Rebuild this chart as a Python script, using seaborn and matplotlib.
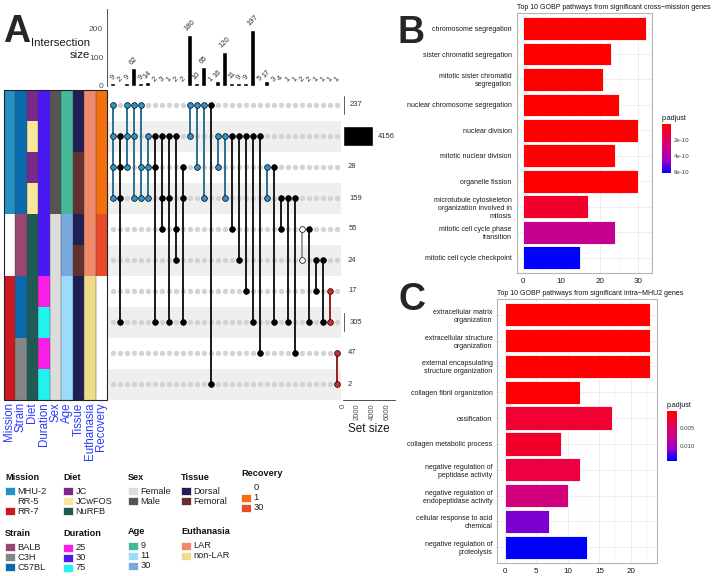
import numpy as np
import pandas as pd
import matplotlib
matplotlib.use("Agg")
import matplotlib.pyplot as plt
from matplotlib.colors import ListedColormap, LinearSegmentedColormap, Normalize
from matplotlib.cm import ScalarMappable
from matplotlib.patches import Rectangle
import seaborn as sns

# ---------------- UpSet data ----------------
set_sizes = [237, 4156, 28, 159, 55, 24, 17, 305, 47, 2]
inter_sizes = [9, 2, 9, 62, 9, 14, 2, 3, 1, 2, 2, 180, 10, 65, 1, 16, 120,
               11, 9, 9, 197, 5, 17, 3, 4, 1, 1, 2, 2, 1, 1, 1, 1]
inter_members = [[0, 1, 2, 3], [1, 2, 3, 7], [0, 1, 2], [0, 1, 3], [0, 2, 3],
                 [1, 2, 3], [1, 2, 7], [1, 3, 4], [1, 3, 7], [1, 4, 5],
                 [2, 3, 7], [0, 1], [0, 2], [0, 3], [0, 9], [1, 2], [1, 3],
                 [1, 4], [1, 5], [1, 6], [1, 7], [1, 8], [2, 3], [2, 7],
                 [3, 4], [3, 7], [3, 8], [4, 5], [4, 7], [5, 6], [5, 7],
                 [6, 7], [8, 9]]

# sample annotations, one entry per set (row)
mission = ["MHU-2"] * 4 + ["RR-5"] * 2 + ["RR-7"] * 4
strain = ["C57BL"] * 4 + ["BALB"] * 2 + ["C57BL"] * 2 + ["C3H"] * 2
diet = ["JC", "JCwFOS", "JC", "JCwFOS"] + ["NuRFB"] * 6
duration = ["30"] * 6 + ["25", "75", "25", "75"]
sex = ["Male"] * 4 + ["Female"] * 6
age = ["9"] * 4 + ["30"] * 2 + ["11"] * 4
tissue = ["Dorsal", "Dorsal", "Femoral", "Femoral", "Dorsal", "Femoral",
          "Dorsal", "Dorsal", "Dorsal", "Dorsal"]
euthanasia = ["LAR"] * 6 + ["non-LAR"] * 4
recovery = ["1"] * 4 + ["30"] * 2 + ["0"] * 4

annotations = {"Mission": mission, "Strain": strain, "Diet": diet,
               "Duration": duration, "Sex": sex, "Age": age, "Tissue": tissue,
               "Euthanasia": euthanasia, "Recovery": recovery}
ann_colors = {
    "Mission": {"MHU-2": "#2391c4", "RR-5": "#ffffff", "RR-7": "#cc1820"},
    "Strain": {"BALB": "#9a4672", "C3H": "#858585", "C57BL": "#0b6aab"},
    "Diet": {"JC": "#78298a", "JCwFOS": "#fbe79a", "NuRFB": "#1f5a55"},
    "Duration": {"25": "#f81ee6", "30": "#4a18f2", "75": "#22f2ee"},
    "Sex": {"Female": "#dcdcdc", "Male": "#555555"},
    "Age": {"9": "#45b898", "11": "#9cdcf8", "30": "#78a8dc"},
    "Tissue": {"Dorsal": "#1f1f55", "Femoral": "#62302e"},
    "Euthanasia": {"LAR": "#f08a6a", "non-LAR": "#eedc8a"},
    "Recovery": {"0": "#ffffff", "1": "#f27010", "30": "#e84a2a"},
}

# ---------------- GO enrichment data ----------------
termsB = ["chromosome segregation", "sister chromatid segregation",
          "mitotic sister chromatid\nsegregation", "nuclear chromosome segregation",
          "nuclear division", "mitotic nuclear division", "organelle fission",
          "microtubule cytoskeleton\norganization involved in\nmitosis",
          "mitotic cell cycle phase\ntransition", "mitotic cell cycle checkpoint"]
countB = [32, 23, 21, 25, 30, 24, 30, 17, 24, 15]
padjB = [1e-13, 2e-12, 4.5e-12, 1.5e-12, 3e-12, 1.2e-11, 6e-12, 8.5e-11, 3.2e-10, 6.1e-10]

termsC = ["extracellular matrix\norganization", "extracellular structure\norganization",
          "external encapsulating\nstructure organization", "collagen fibril organization",
          "ossification", "collagen metabolic process",
          "negative regulation of\npeptidase activity",
          "negative regulation of\nendopeptidase activity",
          "cellular response to acid\nchemical", "negative regulation of\nproteolysis"]
countC = [23, 23, 23, 12, 17, 9, 12, 10, 7, 13]
padjC = [2.5e-5, 2.5e-5, 3e-5, 2e-4, 2.3e-3, 2.0e-3, 2.9e-3, 6.3e-3, 1.14e-2, 1.42e-2]

# ---------------- setup ----------------
sns.set_style("white")
plt.rcParams["font.family"] = ["Liberation Sans", "DejaVu Sans"]
W, H = 720, 576
fig = plt.figure(figsize=(W / 100, H / 100), dpi=100)


def px_axes(x0, y0, x1, y1):
    return fig.add_axes([x0 / W, 1 - y1 / H, (x1 - x0) / W, (y1 - y0) / H])


n_sets = len(set_sizes)
n_inter = len(inter_sizes)
XL = (-0.77, 32.57)


def group_of(members):
    ms = {mission[r] for r in members}
    return ms.pop() if len(ms) == 1 else "cross"


dot_fill = {"cross": "#000000", "MHU-2": "#2b95c6", "RR-5": "#ffffff", "RR-7": "#d42a2a"}
line_col = {"cross": "#1a1a1a", "MHU-2": "#2f6f8f", "RR-5": "#9a9a9a", "RR-7": "#9a1c1c"}

# ---- intersection size bars ----
ax_bar = px_axes(107.3, 9, 340.7, 86)
df_int = pd.DataFrame({"idx": np.arange(n_inter), "size": inter_sizes})
sns.barplot(data=df_int, x="idx", y="size", native_scale=True, color="black",
            width=0.75, saturation=1, ax=ax_bar)
for i, v in enumerate(inter_sizes):
    ax_bar.annotate(str(v), (i, v), xytext=(0, 1.5), textcoords="offset points",
                    rotation=45, ha="center", va="bottom", fontsize=5.5, color="#333333")
ax_bar.set_xlim(*XL)
ax_bar.set_ylim(0, 270)
ax_bar.set_yticks([0, 100, 200])
ax_bar.set_xticks([])
ax_bar.set_xlabel("")
ax_bar.set_ylabel("")
for s in ["top", "right", "bottom"]:
    ax_bar.spines[s].set_visible(False)
ax_bar.spines["left"].set_color("#333333")
ax_bar.spines["left"].set_linewidth(0.6)
ax_bar.tick_params(axis="y", labelsize=6, length=2, width=0.5, colors="#4d4d4d", pad=1)
fig.text(90 / W, 1 - 49 / H, "Intersection\nsize", ha="right", va="center", fontsize=8.2,
         color="#1a1a1a", linespacing=1.15)

# ---- matrix ----
ax_mat = px_axes(107.3, 89.5, 340.7, 399.5)
for r in range(n_sets):
    if r % 2 == 1:
        ax_mat.axhspan(r - 0.5, r + 0.5, color="#efefef", lw=0, zorder=0)
gx, gy = np.meshgrid(np.arange(n_inter), np.arange(n_sets))
ax_mat.scatter(gx.ravel(), gy.ravel(), s=15, color="#d3d3d3", lw=0, zorder=1)
for i, mem in enumerate(inter_members):
    g = group_of(mem)
    ax_mat.vlines(i, min(mem), max(mem), color=line_col[g], lw=1.4, zorder=2)
    ax_mat.scatter([i] * len(mem), mem, s=17, color=dot_fill[g], edgecolors="black",
                   linewidths=0.5, zorder=3)
ax_mat.set_xlim(*XL)
ax_mat.set_ylim(n_sets - 0.5, -0.5)
ax_mat.axis("off")

# ---- set size bars ----
ax_set = px_axes(343, 89.5, 395, 399.5)
df_set = pd.DataFrame({"row": np.arange(n_sets), "size": set_sizes})
sns.barplot(data=df_set, x="size", y="row", orient="h", native_scale=True, color="black",
            width=0.62, saturation=1, ax=ax_set)
for r, v in enumerate(set_sizes):
    ax_set.annotate(str(v), (v, r), xytext=(3.5, 0), textcoords="offset points",
                    ha="left", va="center", fontsize=5.5, color="#333333")
ax_set.set_ylim(n_sets - 0.5, -0.5)
ax_set.set_xlim(0, 7150)
ax_set.set_xticks([0, 2000, 4000, 6000])
ax_set.set_xticklabels(["0", "2000", "4000", "6000"], rotation=90)
ax_set.set_yticks([])
ax_set.set_ylabel("")
ax_set.set_xlabel("Set size", fontsize=8.5, color="#1a1a1a", labelpad=2)
for s in ["top", "right", "left"]:
    ax_set.spines[s].set_visible(False)
ax_set.spines["bottom"].set_color("#333333")
ax_set.spines["bottom"].set_linewidth(0.6)
ax_set.tick_params(axis="x", labelsize=5.5, length=2, width=0.5, colors="#4d4d4d", pad=1)

# ---- annotation heatmap ----
ax_heat = px_axes(3.5, 89.5, 107, 399.5)
ann_names = list(annotations.keys())
all_colors = []
lookup = {}
for name in ann_names:
    for lvl, col in ann_colors[name].items():
        lookup[(name, lvl)] = len(all_colors)
        all_colors.append(col)
codes = np.array([[lookup[(name, annotations[name][r])] for name in ann_names]
                  for r in range(n_sets)])
sns.heatmap(codes, cmap=ListedColormap(all_colors), vmin=-0.5, vmax=len(all_colors) - 0.5,
            cbar=False, xticklabels=ann_names, yticklabels=False, ax=ax_heat)
for k in range(1, len(ann_names)):
    ax_heat.axvline(k, color="#444444", lw=0.3)
ax_heat.add_patch(Rectangle((0, 0), len(ann_names), n_sets, fill=False, ec="#222222",
                            lw=0.8, clip_on=False))
ax_heat.tick_params(axis="x", length=0, pad=2, labelsize=8.3, labelcolor="#2b3bff")
plt.setp(ax_heat.get_xticklabels(), rotation=90, ha="center", va="top")

# ---- legend ----
ax_leg = px_axes(0, 455, 420, 576)
ax_leg.set_xlim(0, 420)
ax_leg.set_ylim(576, 455)
ax_leg.axis("off")
leg_pos = {"Mission": (5, 477), "Diet": (63, 477), "Sex": (128, 477), "Tissue": (181, 477),
           "Recovery": (241, 474), "Strain": (5, 533), "Duration": (63, 534),
           "Age": (128, 532), "Euthanasia": (181, 532)}
for name, (lx, ly) in leg_pos.items():
    ax_leg.text(lx, ly, name, fontsize=6.6, fontweight="bold", color="#111111",
                ha="left", va="center")
    for j, (lvl, col) in enumerate(ann_colors[name].items()):
        yy = ly + 14 + 10 * j
        ax_leg.add_patch(Rectangle((lx, yy - 4.3), 10, 8.6, facecolor=col, edgecolor="white",
                                   lw=0.5))
        ax_leg.text(lx + 12.5, yy, lvl, fontsize=6.7, color="#222222", ha="left", va="center")

# ---- GO panels ----
padj_cmap = LinearSegmentedColormap.from_list(
    "padj", ["#ff0000", "#e8004f", "#ca0089", "#9a00c3", "#0000ff"])


def go_panel(ax, cax, terms, counts, padj, xmax, xmajor, xminor, cticks, clabels, title):
    norm = Normalize(vmin=min(padj), vmax=max(padj))
    cols = [padj_cmap(norm(p)) for p in padj]
    df = pd.DataFrame({"Description": terms, "Count": counts})
    sns.barplot(data=df, x="Count", y="Description", hue="Description", palette=cols,
                legend=False, width=0.9, saturation=1, edgecolor="white", linewidth=0.6,
                ax=ax, zorder=3)
    ax.set_xlim(-0.05 * xmax, 1.05 * xmax)
    ax.set_ylim(len(terms) - 0.4, -0.6)
    ax.set_xticks(xmajor)
    ax.set_xticks(xminor, minor=True)
    ax.set_axisbelow(True)
    ax.grid(True, which="major", color="#ebebeb", lw=0.6)
    ax.grid(True, which="minor", axis="x", color="#f2f2f2", lw=0.35)
    ax.set_xlabel("")
    ax.set_ylabel("")
    for s in ax.spines.values():
        s.set_color("#b5b5b5")
        s.set_linewidth(0.8)
    ax.tick_params(axis="both", which="major", labelsize=5.0, length=2, width=0.5,
                   color="#333333", labelcolor="#1a1a1a", pad=1.5)
    ax.tick_params(axis="x", which="minor", length=0)
    ax.tick_params(axis="x", labelsize=5.8)
    ax.set_title(title, fontsize=5.0, loc="left", pad=3, color="#111111")
    cb = fig.colorbar(ScalarMappable(norm=norm, cmap=padj_cmap), cax=cax)
    cb.outline.set_visible(False)
    cb.set_ticks(cticks, labels=clabels)
    cax.invert_yaxis()
    cax.tick_params(labelsize=4.4, length=2, width=0.5, color="white", direction="in",
                    labelcolor="#444444", pad=2)
    cax.set_title("p.adjust", fontsize=5, loc="left", pad=3, color="#111111")


axB = px_axes(516.7, 13.3, 651.7, 273)
caxB = px_axes(661.7, 124.3, 670.7, 173.3)
go_panel(axB, caxB, termsB, countB, padjB, 32, [0, 10, 20, 30], [5, 15, 25],
         [2e-10, 4e-10, 6e-10], ["2e-10", "4e-10", "6e-10"],
         "Top 10 GOBP pathways from significant cross\u2212mission genes")

axC = px_axes(497.3, 299.3, 657.3, 562.7)
caxC = px_axes(666.7, 410.7, 676.7, 460.7)
go_panel(axC, caxC, termsC, countC, padjC, 23, [0, 5, 10, 15, 20], [2.5, 7.5, 12.5, 17.5, 22.5],
         [0.005, 0.010], ["0.005", "0.010"],
         "Top 10 GOBP pathways from significant intra\u2212MHU2 genes")

# ---- panel letters ----
fig.text(3 / W, 1 - 42 / H, "A", fontsize=27, fontweight="bold", ha="left", va="baseline")
fig.text(397 / W, 1 - 43 / H, "B", fontsize=27, fontweight="bold", ha="left", va="baseline")
fig.text(399 / W, 1 - 310 / H, "C", fontsize=27, fontweight="bold", ha="left", va="baseline")

fig.savefig("out.png", dpi=100)
